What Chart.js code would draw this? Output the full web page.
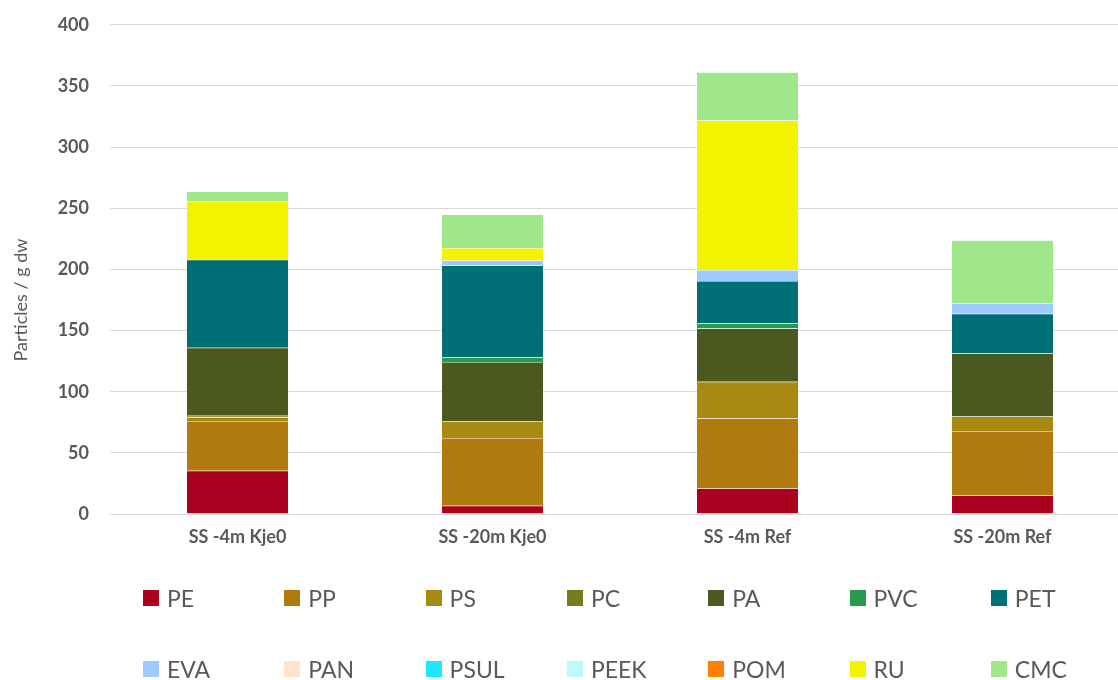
<!DOCTYPE html>
<html>
<head>
<meta charset="utf-8">
<script src="https://cdn.jsdelivr.net/npm/chart.js@4"></script>
<style>
  html, body { margin: 0; padding: 0; background: #fff; overflow: hidden; }
  body { width: 1118px; height: 680px; position: relative; font-family: Lato, sans-serif; }
  #wrap { position: absolute; left: 0; top: -7px; width: 1130px; height: 567px; }
  #legend { position: absolute; left: 0; top: 0; width: 1118px; height: 680px; pointer-events: none; }
  .item { position: absolute; display: flex; align-items: center; font-size: 23px; color: #595959; }
  .box { width: 16px; height: 16px; margin-right: 8px; }
  #ytitle { position: absolute; left: 20px; top: 300px; transform: translate(-50%, -50%) rotate(-90deg);
            white-space: nowrap; font-size: 18px; color: #595959; }
</style>
</head>
<body>
<div id="wrap"><canvas id="chart"></canvas></div>
<div id="ytitle">Particles / g dw</div>
<div id="legend"></div>
<script>
const categories = ['SS -4m Kje0', 'SS -20m Kje0', 'SS -4m Ref', 'SS -20m Ref'];
const yTicks = [0, 50, 100, 150, 200, 250, 300, 350, 400];

// Particles / g dw per polymer
const PE   = [35.4, 6.8, 21.0, 15.3];
const PP   = [40.6, 55.3, 57.2, 52.5];
const PS   = [3.2, 13.6, 29.9, 12.0];
const PC   = [1.1, 0, 0, 0];
const PA   = [55.6, 48.5, 43.6, 51.7];
const PVC  = [0, 3.8, 4.3, 0];
const PET  = [71.9, 75.2, 34.6, 32.2];
const EVA  = [0, 4.0, 9.0, 8.4];
const PAN  = [0, 0, 0, 0];
const PSUL = [0, 0, 0, 0];
const PEEK = [0, 0, 0, 0];
const POM  = [0, 0, 0, 0];
const RU   = [48.2, 10.4, 122.2, 0];
const CMC  = [7.6, 27.2, 39.4, 51.8];

const seriesNames = ['PE', 'PP', 'PS', 'PC', 'PA', 'PVC', 'PET', 'EVA', 'PAN', 'PSUL', 'PEEK', 'POM', 'RU', 'CMC'];
const seriesData = [PE, PP, PS, PC, PA, PVC, PET, EVA, PAN, PSUL, PEEK, POM, RU, CMC];
const seriesColors = ['#ab0020', '#b07a0e', '#a88a12', '#7b7b1b', '#4a5a1f', '#259b4f', '#006e75',
                      '#9ecbff', '#ffe5cc', '#1ee8ff', '#bff9fb', '#ff8000', '#f3f300', '#a0e68a'];

const datasets = seriesNames.map((name, i) => ({
  label: name,
  data: seriesData[i],
  backgroundColor: seriesColors[i],
  borderColor: 'rgba(255,255,255,0.25)',
  borderWidth: 0.5,
  barPercentage: 0.4,
  categoryPercentage: 1.0
}));

const ctx = document.getElementById('chart').getContext('2d');
new Chart(ctx, {
  type: 'bar',
  data: { labels: categories, datasets },
  options: {
    responsive: true,
    maintainAspectRatio: false,
    animation: false,
    layout: { padding: { top: 17, left: 0, right: 0, bottom: 0 } },
    plugins: { legend: { display: false }, tooltip: { enabled: false } },
    scales: {
      x: {
        stacked: true,
        grid: { display: false, drawTicks: false },
        border: { display: false },
        ticks: { color: '#595959', padding: 12, font: { family: 'Lato', size: 18, weight: 'bold' } },
        afterFit: s => { s.height = 46; }
      },
      y: {
        stacked: true,
        min: 0,
        max: 400,
        afterBuildTicks: s => { s.ticks = yTicks.map(v => ({ value: v })); },
        grid: { color: '#d9d9d9', lineWidth: 1, drawTicks: false },
        border: { display: false },
        ticks: { color: '#595959', padding: 21, font: { family: 'Lato', size: 18, weight: 'bold' } },
        afterFit: s => { s.width = 110; }
      }
    }
  }
});

// legend in two rows of seven, like the original
const legend = document.getElementById('legend');
seriesNames.forEach((name, i) => {
  const row = Math.floor(i / 7), col = i % 7;
  const el = document.createElement('div');
  el.className = 'item';
  el.style.left = (143 + col * 141.3) + 'px';
  el.style.top = (row === 0 ? 584 : 655) + 'px';
  el.style.height = '28px';
  el.innerHTML = `<span class="box" style="background:${seriesColors[i]}"></span><span>${name}</span>`;
  legend.appendChild(el);
});
</script>
</body>
</html>
